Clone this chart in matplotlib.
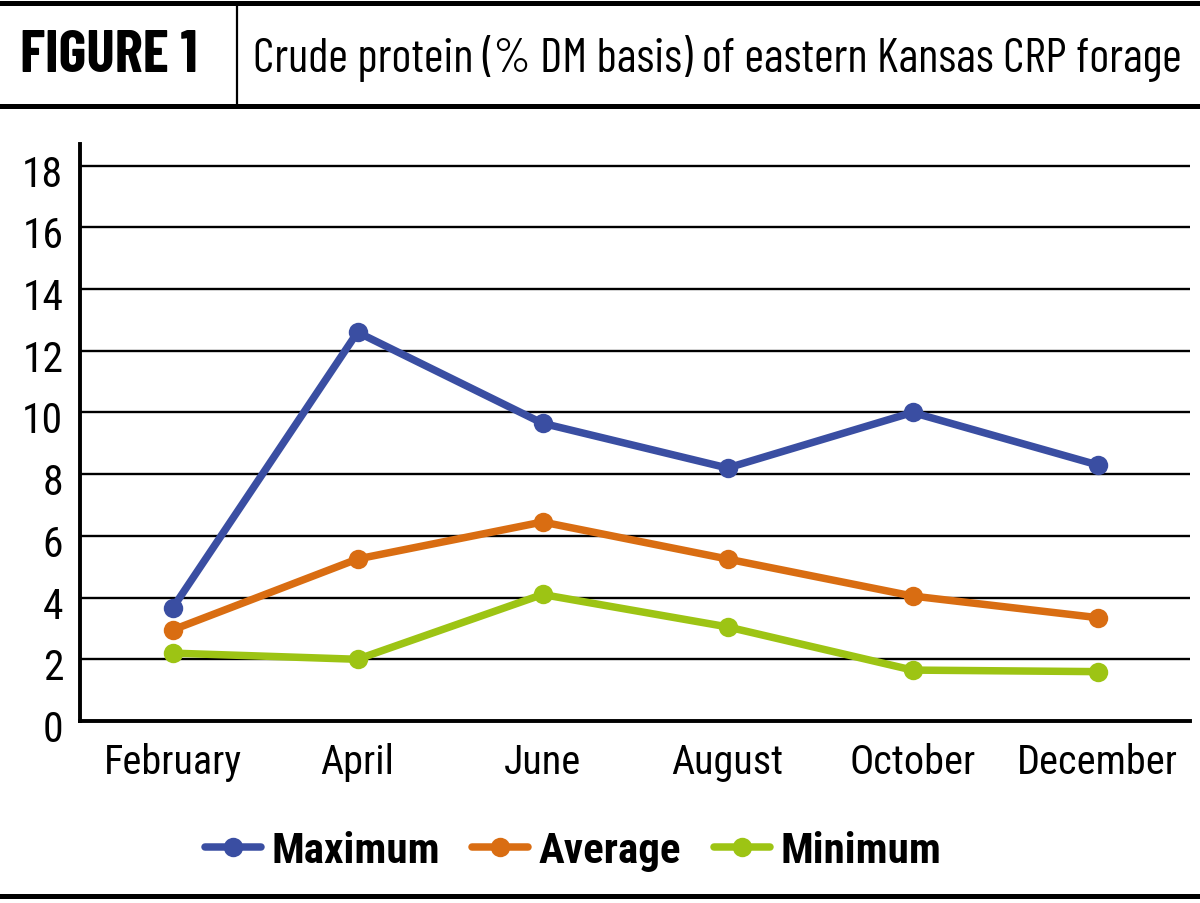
import matplotlib
matplotlib.use("Agg")
import matplotlib.pyplot as plt
from matplotlib.lines import Line2D
from matplotlib.transforms import ScaledTranslation

months = ["February", "April", "June", "August", "October", "December"]
maximum = [3.65, 12.6, 9.65, 8.2, 10.0, 8.3]
average = [2.95, 5.25, 6.45, 5.25, 4.05, 3.35]
minimum = [2.2, 2.0, 4.1, 3.05, 1.65, 1.6]
yticks = [0, 2, 4, 6, 8, 10, 12, 14, 16, 18]

TICKF = "Roboto Condensed"
HEADF = "Barlow Condensed"

fig = plt.figure(figsize=(12, 9.04), dpi=100)
W, H = 1200, 904

ax = fig.add_axes([80 / W, 1 - 722 / H, 1110 / W, (722 - 145) / H])
x = list(range(len(months)))
series = [("Maximum", maximum, "#3a4ea2"),
          ("Average", average, "#d96d12"),
          ("Minimum", minimum, "#9dc414")]
for name, vals, col in series:
    ax.plot(x, vals, color=col, lw=5.4, marker="o", ms=14, mew=0, label=name,
            solid_capstyle="round", solid_joinstyle="round", zorder=3)

ax.set_xlim(-0.5, 5.5)
ax.set_ylim(0, 18.7)
ax.set_yticks(yticks)
ax.set_yticklabels([str(t) for t in yticks], fontsize=30, family=TICKF)
ax.set_xticks(x)
ax.set_xticklabels(months, fontsize=29, family=TICKF)
ax.tick_params(length=0)
ax.tick_params(axis="y", pad=12)
ax.tick_params(axis="x", pad=15)
off = ScaledTranslation(0, -4 / 100, fig.dpi_scale_trans)
for lab in ax.get_yticklabels():
    lab.set_transform(lab.get_transform() + off)
for t in yticks[1:]:
    ax.axhline(t, color="black", lw=1.7, zorder=1)
for s in ["top", "right"]:
    ax.spines[s].set_visible(False)
ax.spines["left"].set_linewidth(2.8)
ax.spines["bottom"].set_linewidth(2.8)

# Header
fig.add_artist(Line2D([0, 1], [1 - 4 / H, 1 - 4 / H], color="black", lw=3.6))
fig.add_artist(Line2D([0, 1], [1 - 107 / H, 1 - 107 / H], color="black", lw=3.6))
fig.add_artist(Line2D([237 / W, 237 / W], [1 - 6 / H, 1 - 107 / H], color="black", lw=1.6))
fig.add_artist(Line2D([0, 1], [1 - 897 / H, 1 - 897 / H], color="black", lw=3.6))
t1 = fig.text(20 / W, 1 - 57 / H, "FIGURE 1", fontsize=34, fontweight="bold",
              family=HEADF, va="center", ha="left")
t2 = fig.text(253 / W, 1 - 59 / H, "Crude protein (% DM basis) of eastern Kansas CRP forage",
              fontsize=27, family=HEADF, fontweight=400, va="center", ha="left")

# fit header texts to their widths in the reference
r = fig.canvas.get_renderer()
for t, target in [(t1, 178), (t2, 927)]:
    w = t.get_window_extent(r).width
    t.set_fontsize(t.get_fontsize() * target / w)

leg = fig.legend(loc="center", bbox_to_anchor=(573 / W, 1 - 852 / H), ncol=3,
                 frameon=False, handlelength=1.3, handletextpad=0.25, columnspacing=0.75,
                 prop={"family": TICKF, "weight": "bold", "size": 31})

fig.savefig("out.png", dpi=100)
